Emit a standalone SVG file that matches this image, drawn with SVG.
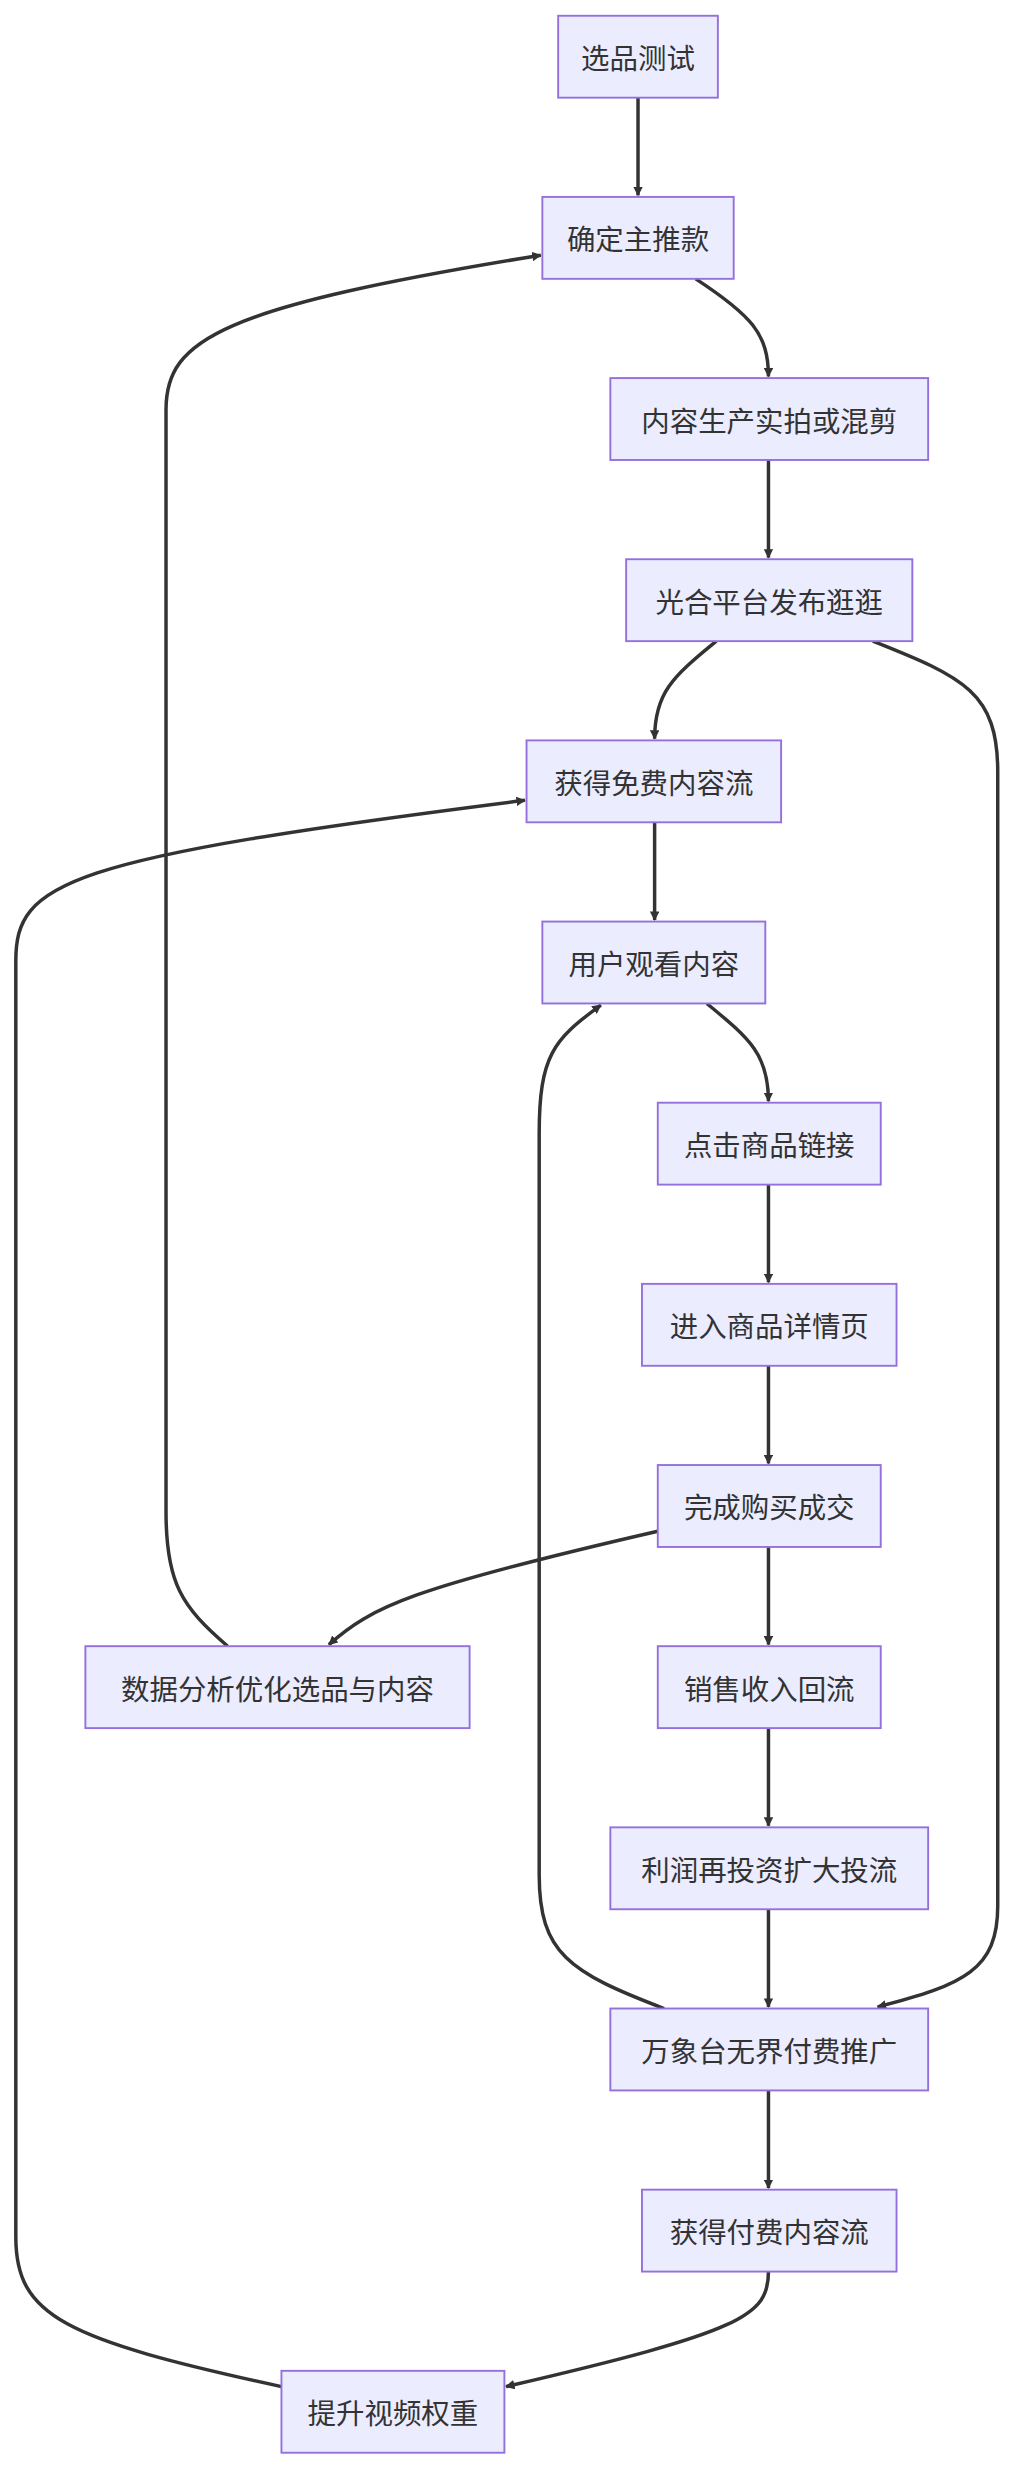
<svg xmlns="http://www.w3.org/2000/svg" width="1012" height="2470" viewBox="0 0 1012 2470">
<defs>
<style>
.n rect{fill:#ECECFF;stroke:#9370DB;stroke-width:1.2}
.n text{font-family:"Noto Sans CJK SC","Liberation Sans",sans-serif;font-size:18px;fill:#333;text-anchor:middle;dominant-baseline:central}
.e path{fill:none;stroke:#333;stroke-width:2.2}
</style>
<marker id="a" viewBox="0 0 10 10" refX="9" refY="5" markerWidth="6" markerHeight="6" orient="auto-start-reverse" markerUnits="userSpaceOnUse"><path d="M0,0L10,5L0,10z" fill="#333"/></marker>
</defs>
<rect width="1012" height="2470" fill="#fff"/>
<g transform="scale(1.5812,1.5753)">
<g class="e" marker-end="url(#a)">
<path d="M403.5,62L403.5,124" marker-end="url(#a)"/>
<path d="M440,177C475,200 486,212 486,239" marker-end="url(#a)"/>
<path d="M486,292L486,354" marker-end="url(#a)"/>
<path d="M453,407C425,430 414,440 414,469" marker-end="url(#a)"/>
<path d="M552,407C610,430 631,440 631,490L631,1210C631,1250 610,1260 555,1274" marker-end="url(#a)"/>
<path d="M414,522L414,584" marker-end="url(#a)"/>
<path d="M447,637C475,660 486,670 486,699" marker-end="url(#a)"/>
<path d="M486,752L486,814" marker-end="url(#a)"/>
<path d="M486,867L486,929" marker-end="url(#a)"/>
<path d="M486,982L486,1044" marker-end="url(#a)"/>
<path d="M486,1097L486,1159" marker-end="url(#a)"/>
<path d="M486,1212L486,1274" marker-end="url(#a)"/>
<path d="M486,1327L486,1389" marker-end="url(#a)"/>
<path d="M416,972C260,1008 235,1020 208,1044" marker-end="url(#a)"/>
<path d="M144,1045C115,1020 105,1005 105,960L105,260C105,215 140,195 342,162" marker-end="url(#a)"/>
<path d="M420,1275C360,1252 341,1240 341,1190L341,720C341,670 350,660 380,638" marker-end="url(#a)"/>
<path d="M486,1442C486,1470 470,1480 320,1515" marker-end="url(#a)"/>
<path d="M178,1515C40,1485 10,1470 10,1420L10,610C10,560 40,545 332,508" marker-end="url(#a)"/>
</g>
<g id="n1" class="n"><rect x="353" y="10" width="101" height="52"/><text x="403.5" y="36">选品测试</text></g>
<g id="n2" class="n"><rect x="343" y="125" width="121" height="52"/><text x="403.5" y="151">确定主推款</text></g>
<g id="n3" class="n"><rect x="386" y="240" width="201" height="52"/><text x="486.5" y="266">内容生产实拍或混剪</text></g>
<g id="n4" class="n"><rect x="396" y="355" width="181" height="52"/><text x="486.5" y="381">光合平台发布逛逛</text></g>
<g id="n5" class="n"><rect x="333" y="470" width="161" height="52"/><text x="413.5" y="496">获得免费内容流</text></g>
<g id="n6" class="n"><rect x="343" y="585" width="141" height="52"/><text x="413.5" y="611">用户观看内容</text></g>
<g id="n7" class="n"><rect x="416" y="700" width="141" height="52"/><text x="486.5" y="726">点击商品链接</text></g>
<g id="n8" class="n"><rect x="406" y="815" width="161" height="52"/><text x="486.5" y="841">进入商品详情页</text></g>
<g id="n9" class="n"><rect x="416" y="930" width="141" height="52"/><text x="486.5" y="956">完成购买成交</text></g>
<g id="n10" class="n"><rect x="54" y="1045" width="243" height="52"/><text x="175.5" y="1071">数据分析优化选品与内容</text></g>
<g id="n11" class="n"><rect x="416" y="1045" width="141" height="52"/><text x="486.5" y="1071">销售收入回流</text></g>
<g id="n12" class="n"><rect x="386" y="1160" width="201" height="52"/><text x="486.5" y="1186">利润再投资扩大投流</text></g>
<g id="n13" class="n"><rect x="386" y="1275" width="201" height="52"/><text x="486.5" y="1301">万象台无界付费推广</text></g>
<g id="n14" class="n"><rect x="406" y="1390" width="161" height="52"/><text x="486.5" y="1416">获得付费内容流</text></g>
<g id="n15" class="n"><rect x="178" y="1505" width="141" height="52"/><text x="248.5" y="1531">提升视频权重</text></g>
</g>
</svg>
